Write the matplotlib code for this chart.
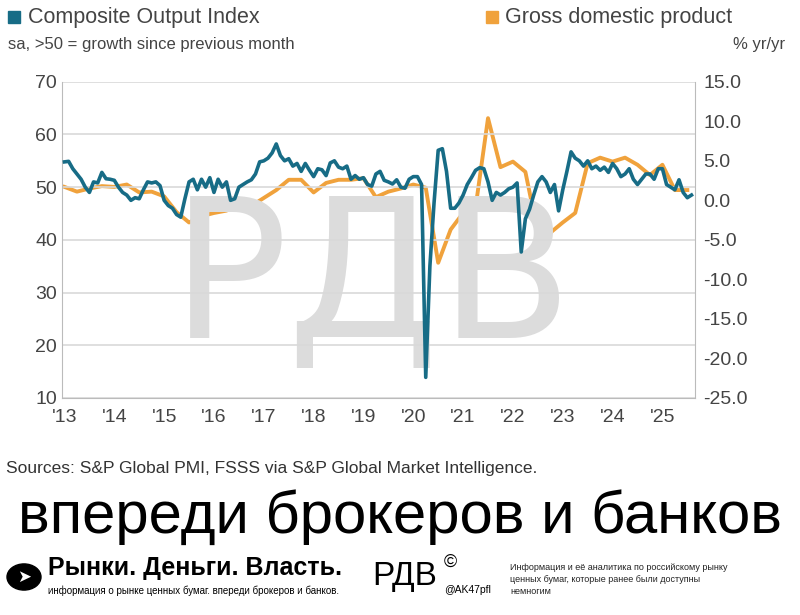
import matplotlib
matplotlib.use("Agg")
import matplotlib.pyplot as plt
import numpy as np
from matplotlib.patches import Rectangle, Circle

pmi_years = list(range(2013, 2026))
pmi = [
 54.8,54.9,53.5,52.5,51.5,50.0,49.0,51.0,50.8,52.8,51.6,51.5,
 51.3,50.0,49.0,48.5,47.5,48.0,47.8,49.5,51.0,50.8,51.0,50.3,
 47.5,46.5,46.0,44.8,44.3,47.8,51.0,51.5,49.5,51.5,50.0,51.8,
 49.0,51.5,50.0,51.0,47.5,47.8,50.0,50.5,51.0,51.4,52.5,54.8,
 55.0,55.5,56.5,58.2,56.0,55.0,55.4,54.0,54.5,53.0,54.5,53.2,
 52.0,53.5,53.3,52.2,54.6,55.0,53.8,53.5,54.0,51.5,52.2,51.5,
 51.8,50.5,50.2,52.5,53.0,51.3,51.0,50.6,51.4,50.0,49.8,51.5,
 52.0,52.0,50.5,13.9,35.0,47.0,57.0,57.3,53.0,46.0,46.0,47.0,
 48.5,50.5,51.8,53.2,53.7,53.5,51.0,47.5,49.0,48.5,49.0,49.7,
 50.0,50.8,37.7,44.0,45.8,48.5,51.0,52.0,51.0,49.0,50.5,45.5,
 49.5,53.0,56.7,55.5,55.0,54.0,55.0,53.5,54.0,53.2,53.8,52.8,
 54.5,53.5,52.0,52.5,53.5,51.5,50.5,51.5,52.5,52.5,51.5,53.5,
 53.5,50.5,50.0,49.5,51.4,49.0,48.0,48.5,
]
pmi_x = 2013 + np.arange(len(pmi)) / 12.0

gdp_quarters = ["2012Q4",
 "2013Q1","2013Q2","2013Q3","2013Q4","2014Q1","2014Q2","2014Q3","2014Q4",
 "2015Q1","2015Q2","2015Q3","2015Q4","2016Q1","2016Q2","2016Q3","2016Q4",
 "2017Q1","2017Q2","2017Q3","2017Q4","2018Q1","2018Q2","2018Q3","2018Q4",
 "2019Q1","2019Q2","2019Q3","2019Q4","2020Q1","2020Q2","2020Q3","2020Q4",
 "2021Q1","2021Q2","2021Q3","2021Q4","2022Q1","2022Q2","2022Q3","2022Q4",
 "2023Q1","2023Q2","2023Q3","2023Q4","2024Q1","2024Q2","2024Q3","2024Q4",
 "2025Q1","2025Q2"]
gdp = [1.7,
 1.1,1.5,1.8,1.7,2.0,1.0,1.1,0.5,
 -1.5,-2.8,-2.0,-1.6,-1.3,-0.5,-0.7,0.3,
 1.3,2.6,2.6,1.0,2.2,2.6,2.6,2.8,
 0.4,1.1,1.5,2.0,1.6,-7.9,-3.7,-1.6,
 -0.9,10.4,4.2,4.9,3.6,-4.1,-4.1,-2.8,
 -1.6,4.7,5.4,4.9,5.4,4.5,3.2,4.5,
 1.3,1.3]
gdp_x = [int(q[:4]) + int(q[-1]) * 0.25 for q in gdp_quarters]

year_labels = ["'13","'14","'15","'16","'17","'18","'19","'20","'21","'22","'23","'24","'25"]
left_ticks = [10,20,30,40,50,60,70]
right_ticks = [-25.0,-20.0,-15.0,-10.0,-5.0,0.0,5.0,10.0,15.0]

TEAL = "#176c86"
ORANGE = "#f0a23c"
GREY = "#444444"
plt.rcParams["font.family"] = "Liberation Sans"

fig = plt.figure(figsize=(8, 6.15), dpi=100)
ax = fig.add_axes([0.0775, 0.353, 0.791, 0.514])
ax2 = ax.twinx()

ax.set_ylim(10, 70)
ax2.set_ylim(-25, 15)
ax.set_xlim(2012.95, 2025.65)
ax.set_yticks(left_ticks)
ax.set_yticklabels([str(t) for t in left_ticks])
ax2.set_yticks(right_ticks)
ax2.set_yticklabels([f"{t:.1f}" for t in right_ticks])
ax.set_xticks(pmi_years)
ax.set_xticklabels(year_labels)
ax.grid(axis="y", color="#d9d9d9", lw=1.2)
ax.set_axisbelow(True)
for a in (ax, ax2):
    for s in ("top", "right", "bottom", "left"):
        a.spines[s].set_visible(False)
    a.tick_params(length=0, labelsize=14, colors=GREY)
for s in ("left", "bottom", "right"):
    ax.spines[s].set_visible(True)
    ax.spines[s].set_color("#bbbbbb")
ax.tick_params(axis="x", pad=8)
ax2.tick_params(axis="y", pad=6)

# watermark
ax.text(0.49, 0.36, "РДВ", transform=ax.transAxes, ha="center", va="center",
        fontsize=140, color="#dcdcdc", fontfamily="DejaVu Sans", zorder=0)

ax.plot(pmi_x, pmi, color=TEAL, lw=2.6, zorder=3)
ax2.plot(gdp_x, gdp, color=ORANGE, lw=2.8, zorder=2)
ax.set_zorder(ax2.get_zorder() + 1)
ax.patch.set_visible(False)

# header
fig.patches.append(Rectangle((8/800, 1-23/615), 12/800, 12/615, transform=fig.transFigure, color=TEAL))
fig.text(28/800, 1-18/615, "Composite Output Index", fontsize=15.5, color=GREY, va="center")
fig.text(8/800, 1-45/615, "sa, >50 = growth since previous month", fontsize=12, color=GREY, va="center")
fig.patches.append(Rectangle((486/800, 1-23/615), 12/800, 12/615, transform=fig.transFigure, color=ORANGE))
fig.text(505/800, 1-18/615, "Gross domestic product", fontsize=15.5, color=GREY, va="center")
fig.text(785/800, 1-45/615, "% yr/yr", fontsize=12, color=GREY, va="center", ha="right")

fig.text(6/800, 1-469/615, "Sources: S&P Global PMI, FSSS via S&P Global Market Intelligence.",
         fontsize=12.5, color="#333333", va="center")
fig.text(400/800, 1-517/615, "впереди брокеров и банков", fontsize=43, color="black",
         ha="center", va="center")
fig.patches.append(Circle((24/800, 1-577/615), 17/800, transform=fig.transFigure, color="black"))
fig.text(24/800, 1-577/615, "➤", fontsize=12, color="white", ha="center", va="center",
         fontfamily="DejaVu Sans")
fig.text(48/800, 1-568/615, "Рынки. Деньги. Власть.", fontsize=18, fontweight="bold",
         color="black", va="center")
fig.text(48/800, 1-591/615, "информация о рынке ценных бумаг. впереди брокеров и банков.",
         fontsize=7, color="black", va="center")
fig.text(372/800, 1-577/615, "РДВ", fontsize=24, color="black", va="center")
fig.text(444/800, 1-562/615, "©", fontsize=13, color="black", va="center")
fig.text(444/800, 1-590/615, "@AK47pfl", fontsize=7.5, color="black", va="center")
fig.text(510/800, 1-563/615, "Информация и её аналитика по российскому рынку\nценных бумаг, которые ранее были доступны\nнемногим",
         fontsize=6.5, color="#222222", va="top", linespacing=1.4)

fig.savefig("out.png", dpi=100, facecolor="white")
